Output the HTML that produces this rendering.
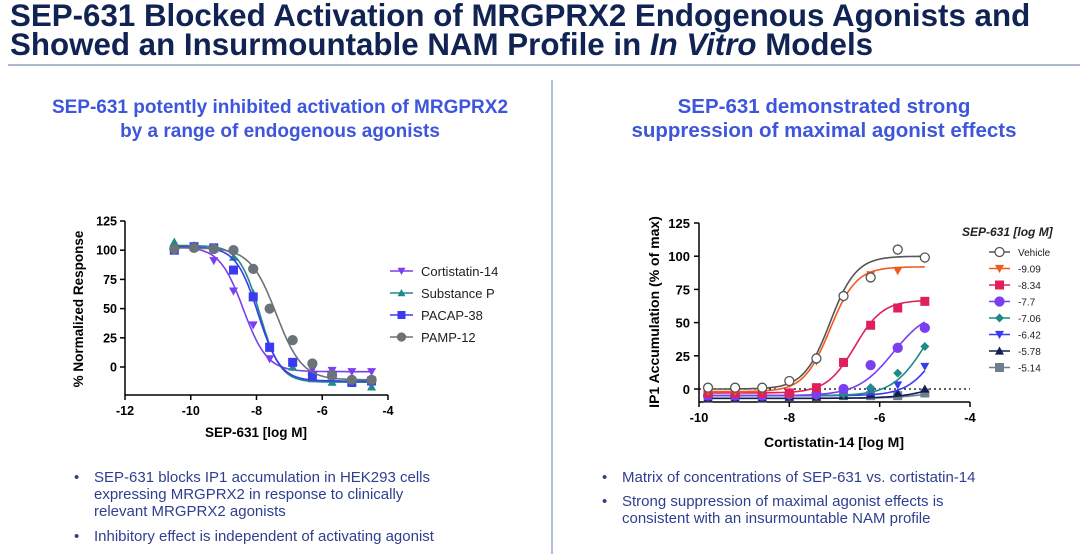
<!DOCTYPE html>
<html><head><meta charset="utf-8"><style>
body{margin:0;background:#fff;}
svg{display:block;font-family:"Liberation Sans",Arial,sans-serif;}
</style></head><body>
<svg id="page" width="1080" height="554" viewBox="0 0 1080 554">
<g fill="#102352" font-weight="bold" font-size="31.3">
<text x="10" y="26">SEP-631 Blocked Activation of MRGPRX2 Endogenous Agonists and</text>
<text x="10" y="55">Showed an Insurmountable NAM Profile in <tspan font-style="italic">In Vitro</tspan> Models</text>
</g>
<line x1="8" y1="65" x2="1080" y2="65" stroke="#7d8db0" stroke-width="1.2"/>
<line x1="552" y1="80" x2="552" y2="554" stroke="#9aa6cc" stroke-width="1.5"/>
<g fill="#3e56db" font-weight="bold" text-anchor="middle">
<text x="280" y="113" font-size="19">SEP-631 potently inhibited activation of MRGPRX2</text>
<text x="280" y="137" font-size="19">by a range of endogenous agonists</text>
<text x="824" y="113" font-size="20.5">SEP-631 demonstrated strong</text>
<text x="824" y="137" font-size="20.5">suppression of maximal agonist effects</text>
</g>
<g fill="#2f3f8f" font-size="15">
<text x="74" y="482">•</text>
<text x="94" y="482">SEP-631 blocks IP1 accumulation in HEK293 cells</text>
<text x="94" y="499">expressing MRGPRX2 in response to clinically</text>
<text x="94" y="516">relevant MRGPRX2 agonists</text>
<text x="74" y="541">•</text>
<text x="94" y="541">Inhibitory effect is independent of activating agonist</text>
<text x="602" y="482">•</text>
<text x="622" y="482">Matrix of concentrations of SEP-631 vs. cortistatin-14</text>
<text x="602" y="506">•</text>
<text x="622" y="506">Strong suppression of maximal agonist effects is</text>
<text x="622" y="523">consistent with an insurmountable NAM profile</text>
</g>
<g id="left"></g>
<g id="right"></g>
</svg>
<script>
// Left chart data
const leftX = [-10.5,-9.9,-9.3,-8.7,-8.1,-7.6,-6.9,-6.3,-5.7,-5.1,-4.5];
const leftNames = ["Cortistatin-14","Substance P","PACAP-38","PAMP-12"];
const leftCortistatin = [101,102,91,65,36,7,0,-2,-3,-4,-4];
const leftSubstanceP = [107,104,101,94,63,16,0,-10,-13,-14,-17];
const leftPacap = [100,103,102,83,60,17,4,-8,-7,-13,-12];
const leftPamp = [101,102,101,100,84,50,23,3,-7,-11,-11];
const leftBottom = [-4,-13,-12,-11];
const leftTop = [103,104,103,102];
const leftLogIC50 = [-8.4,-7.9,-7.95,-7.4];
const leftHill = [1.2,1.4,1.3,1.1];
const leftXTicks = [-12,-10,-8,-6,-4];
const leftYTicks = [0,25,50,75,100,125];

// Right chart data
const rightX = [-9.8,-9.2,-8.6,-8,-7.4,-6.8,-6.2,-5.6,-5];
const rightNames = ["Vehicle","-9.09","-8.34","-7.7","-7.06","-6.42","-5.78","-5.14"];
const rVehicle = [1,1,1,6,23,70,84,105,99];
const r909 = [-2,-2,-1,4,21,69,86,89,98];
const r834 = [-3,-3,-3,-3,1,20,48,61,66];
const r77 = [-5,-5,-5,-4,-4,0,18,31,46];
const r706 = [-5,-5,-5,-5,-5,-4,1,12,32];
const r642 = [-5,-5,-5,-5,-5,-4,-2,3,17];
const r578 = [-7,-7,-7,-6,-6,-5,-4,-3,0];
const r514 = [-7,-7,-7,-6,-6,-5,-5,-5,-3];
const rightBottom = [0,-2,-3,-5,-5,-5,-7,-7];
const rightTop = [100,92,67,60,70,60,12,6];
const rightLogEC50 = [-7.1,-7.1,-6.55,-5.7,-5.0,-4.7,-4.6,-4.5];
const rightHill = [1.5,1.5,1.4,1.1,1.2,1.3,1,1];
const rightXTicks = [-10,-8,-6,-4];
const rightYTicks = [0,25,50,75,100,125];

const NS="http://www.w3.org/2000/svg";
function mk(p,tag,attrs){const e=document.createElementNS(NS,tag);for(const k in attrs)e.setAttribute(k,attrs[k]);p.appendChild(e);return e;}

function marker(g,shape,x,y,c,s){
  let e;
  if(shape==="circle"||shape==="open") e=mk(g,"circle",{cx:x,cy:y,r:s,fill:shape==="open"?"#fff":c,stroke:c,"stroke-width":1.3});
  else if(shape==="square") e=mk(g,"rect",{x:x-s,y:y-s,width:2*s,height:2*s,fill:c});
  else if(shape==="down") e=mk(g,"polygon",{points:`${x-s},${y-s*0.8} ${x+s},${y-s*0.8} ${x},${y+s}`,fill:c});
  else if(shape==="up") e=mk(g,"polygon",{points:`${x-s},${y+s*0.8} ${x+s},${y+s*0.8} ${x},${y-s}`,fill:c});
  else if(shape==="diamond") e=mk(g,"polygon",{points:`${x},${y-s} ${x+s},${y} ${x},${y+s} ${x-s},${y}`,fill:c});
  return e;
}

// LEFT
(function(){
  const g=document.getElementById("left");
  const sx=v=>125+(v+12)*(388-125)/8, sy=v=>367-v*(367-221)/125;
  const axY=395;
  const ax=mk(g,"g",{});
  
  
  mk(ax,"line",{x1:125,y1:221,x2:125,y2:axY,stroke:"#000","stroke-width":1.5});
  mk(ax,"line",{x1:125,y1:axY,x2:388,y2:axY,stroke:"#000","stroke-width":1.5});
  leftYTicks.forEach(t=>{mk(ax,"line",{x1:120,y1:sy(t),x2:125,y2:sy(t),stroke:"#000","stroke-width":1.5});
    const tx=mk(ax,"text",{x:117,y:sy(t)+4.5,"text-anchor":"end","font-size":12.5,"font-weight":"bold"});tx.textContent=t;});
  leftXTicks.forEach(t=>{mk(ax,"line",{x1:sx(t),y1:axY,x2:sx(t),y2:axY+5,stroke:"#000","stroke-width":1.5});
    const tx=mk(ax,"text",{x:sx(t),y:axY+20,"text-anchor":"middle","font-size":12.5,"font-weight":"bold"});tx.textContent=t;});
  const xt=mk(ax,"text",{x:256,y:437,"text-anchor":"middle","font-size":13.5,"font-weight":"bold"});xt.textContent="SEP-631 [log M]";
  
  const yt=mk(ax,"text",{x:0,y:0,"text-anchor":"middle","font-size":13.5,"font-weight":"bold",transform:"translate(83,309) rotate(-90)"});yt.textContent="% Normalized Response";
  
  const series=[leftCortistatin,leftSubstanceP,leftPacap,leftPamp];
  const colors=["#7a3ff0","#1f8a88","#3a3af0","#6b7278"];
  const shapes=["down","up","square","circle"];
  series.forEach((vals,i)=>{
    const sg=mk(g,"g",{});
    
    
    let d="";
    for(let k=0;k<=120;k++){const x=-10.5+6*k/120;const y=leftBottom[i]+(leftTop[i]-leftBottom[i])/(1+Math.pow(10,leftHill[i]*(x-leftLogIC50[i])));d+=(k?"L":"M")+sx(x).toFixed(1)+","+sy(y).toFixed(1);}
    mk(sg,"path",{d,fill:"none",stroke:colors[i],"stroke-width":1.6});
    vals.forEach((v,j)=>{const m=marker(sg,shapes[i],sx(leftX[j]),sy(v),colors[i],4.5);
      
      });
    const ly=271+i*22;
    const lg=mk(g,"g",{});
    
    
    mk(lg,"line",{x1:390,y1:ly,x2:413,y2:ly,stroke:colors[i],"stroke-width":1.6});
    marker(lg,shapes[i],401.5,ly,colors[i],4);
    const t=mk(lg,"text",{x:421,y:ly+5,"font-size":13,fill:"#222"});t.textContent=leftNames[i];
  });
})();

// RIGHT
(function(){
  const g=document.getElementById("right");
  const sx=v=>699+(v+10)*(970-699)/6, sy=v=>389-v*(389-223)/125;
  const axY=402;
  const ax=mk(g,"g",{});
  
  
  mk(ax,"line",{x1:699,y1:223,x2:699,y2:axY,stroke:"#000","stroke-width":1.5});
  mk(ax,"line",{x1:699,y1:axY,x2:970,y2:axY,stroke:"#000","stroke-width":1.5});
  mk(ax,"line",{x1:699,y1:sy(0),x2:970,y2:sy(0),stroke:"#000","stroke-width":1.2,"stroke-dasharray":"2,3"});
  rightYTicks.forEach(t=>{mk(ax,"line",{x1:694,y1:sy(t),x2:699,y2:sy(t),stroke:"#000","stroke-width":1.5});
    const tx=mk(ax,"text",{x:690,y:sy(t)+5,"text-anchor":"end","font-size":13,"font-weight":"bold"});tx.textContent=t;});
  rightXTicks.forEach(t=>{mk(ax,"line",{x1:sx(t),y1:axY,x2:sx(t),y2:axY+5,stroke:"#000","stroke-width":1.5});
    const tx=mk(ax,"text",{x:sx(t),y:axY+20,"text-anchor":"middle","font-size":13,"font-weight":"bold"});tx.textContent=t;});
  const xt=mk(ax,"text",{x:834,y:447,"text-anchor":"middle","font-size":14,"font-weight":"bold"});xt.textContent="Cortistatin-14 [log M]";
  
  const yt=mk(ax,"text",{x:0,y:0,"text-anchor":"middle","font-size":14,"font-weight":"bold",transform:"translate(659,312) rotate(-90)"});yt.textContent="IP1 Accumulation (% of max)";
  
  const lt=mk(g,"text",{x:962,y:236,"font-size":12,"font-weight":"bold","font-style":"italic",fill:"#222"});lt.textContent="SEP-631 [log M]";
  
  
  const series=[rVehicle,r909,r834,r77,r706,r642,r578,r514];
  const colors=["#555","#f05a1e","#e0205a","#7a3ff0","#1f8a88","#3a3af0","#141e50","#6e7f8e"];
  const shapes=["open","down","square","circle","diamond","down","up","square"];
  for(let i=series.length-1;i>=0;i--){
    const vals=series[i];
    const sg=mk(g,"g",{});
    
    
    let d="";
    for(let k=0;k<=120;k++){const x=-9.8+4.8*k/120;const y=rightBottom[i]+(rightTop[i]-rightBottom[i])/(1+Math.pow(10,rightHill[i]*(rightLogEC50[i]-x)));d+=(k?"L":"M")+sx(x).toFixed(1)+","+sy(y).toFixed(1);}
    mk(sg,"path",{d,fill:"none",stroke:colors[i],"stroke-width":1.6});
    vals.forEach((v,j)=>{const m=marker(sg,shapes[i],sx(rightX[j]),sy(v),colors[i],4.5);
      
      });
  }
  series.forEach((vals,i)=>{
    const ly=252+i*16.5;
    const lg=mk(g,"g",{});
    
    
    mk(lg,"line",{x1:989,y1:ly,x2:1010,y2:ly,stroke:colors[i],"stroke-width":1.6});
    marker(lg,shapes[i],999.5,ly,colors[i],4.5);
    const t=mk(lg,"text",{x:1018,y:ly+4,"font-size":10,fill:"#222"});t.textContent=rightNames[i];
  });
})();
</script>
</body></html>
